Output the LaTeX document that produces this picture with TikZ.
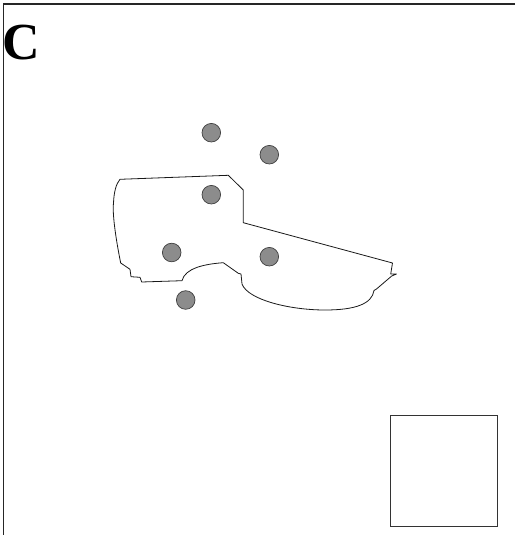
\documentclass[tikz,border=0pt]{standalone}
\usepackage{fontspec}
\setmainfont{Liberation Serif}
\begin{document}
\begin{tikzpicture}[x=1pt,y=-1pt,
  frameline/.style={line width=1.1pt, draw=black!85},
  outline/.style={line width=0.8pt, draw=black!90, line join=round},
  spot/.style={circle, minimum size=18.6pt, inner sep=0pt, fill=black!45, draw=black!75, line width=0.7pt},
  boxline/.style={line width=1.2pt, draw=black!80}]
\useasboundingbox (0,0) rectangle (515,535);
% frame (top and left only)
\draw[frameline] (515,4) -- (3.7,4) -- (3.7,535);
% label
\node[inner sep=0pt, font=\fontsize{52}{52}\selectfont\bfseries] (lbl) at (21.5,42.5) {C};
% outline
\draw[outline] (120,179.3) -- (228.3,175.3) -- (243.3,190) -- (243.3,222.7) -- (392.5,263)
  -- (390.7,274) -- (396.5,274) -- (391.7,276) -- (376.5,289) -- (374,290.5)
  .. controls (372,304) and (355,310) .. (325,310)
  .. controls (290,310) and (248,300) .. (242,284)
  -- (241,274) -- (238.3,273.3) -- (223.3,262.7)
  .. controls (205,264) and (185,268) .. (182,280.7)
  -- (141.7,282) -- (140,277.3) -- (131,276.7) -- (130,269.3) -- (120.7,263)
  .. controls (117,245) and (112,215) .. (113.5,203)
  .. controls (114,192) and (116,184) .. (120,179.3) -- cycle;
% spots
\node[spot] (s1) at (211.3,132.7) {};
\node[spot] (s2) at (269.3,154.7) {};
\node[spot] (s3) at (211.3,194.7) {};
\node[spot] (s4) at (171.7,252.5) {};
\node[spot] (s5) at (269.3,256.7) {};
\node[spot] (s6) at (185.7,300) {};
% square
\draw[boxline] (390.7,415.7) rectangle (497.7,526.7);
\end{tikzpicture}
\end{document}
